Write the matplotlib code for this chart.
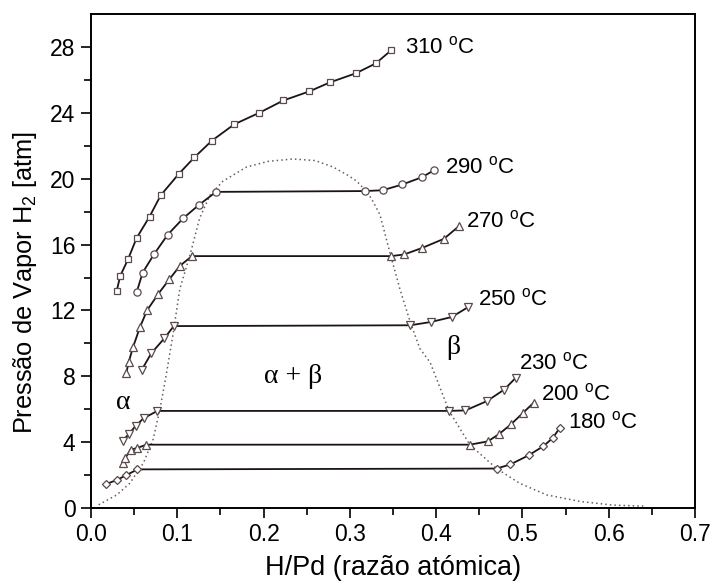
import numpy as np
import matplotlib
matplotlib.use('Agg')
import matplotlib.pyplot as plt

# ---------------------------------------------------------------------------
# Data
# ---------------------------------------------------------------------------

x310 = [0.030, 0.034, 0.043, 0.053, 0.068, 0.081, 0.102, 0.120, 0.140,
        0.166, 0.195, 0.223, 0.253, 0.277, 0.307, 0.330, 0.348]
y310 = [13.2, 14.1, 15.1, 16.4, 17.7, 19.0, 20.3, 21.3, 22.3,
        23.3, 24.0, 24.75, 25.3, 25.85, 26.4, 27.0, 27.8]

x290 = [0.053, 0.060, 0.073, 0.089, 0.107, 0.125, 0.145, 0.318, 0.338,
        0.361, 0.384, 0.397]
y290 = [13.1, 14.3, 15.4, 16.6, 17.6, 18.4, 19.2, 19.25, 19.3,
        19.65, 20.1, 20.5]

x270 = [0.041, 0.044, 0.049, 0.057, 0.065, 0.078, 0.091, 0.103, 0.117,
        0.348, 0.363, 0.384, 0.409, 0.426]
y270 = [8.2, 8.9, 9.8, 11.0, 12.0, 13.0, 13.9, 14.7, 15.3,
        15.3, 15.4, 15.8, 16.35, 17.1]

x250 = [0.059, 0.070, 0.085, 0.096, 0.370, 0.394, 0.418, 0.437]
y250 = [8.4, 9.4, 10.3, 11.05, 11.1, 11.3, 11.6, 12.2]

x230 = [0.037, 0.044, 0.052, 0.061, 0.077, 0.415, 0.434, 0.459, 0.479, 0.492]
y230 = [4.1, 4.5, 5.0, 5.45, 5.9, 5.9, 5.93, 6.5, 7.2, 7.9]

x200 = [0.037, 0.040, 0.046, 0.054, 0.064, 0.439, 0.460, 0.473, 0.487,
        0.501, 0.513]
y200 = [2.75, 3.05, 3.55, 3.65, 3.85, 3.85, 4.05, 4.5, 5.1, 5.8, 6.4]

x180 = [0.017, 0.030, 0.041, 0.054, 0.470, 0.486, 0.507, 0.524, 0.535, 0.543]
y180 = [1.45, 1.7, 2.0, 2.35, 2.4, 2.65, 3.2, 3.75, 4.25, 4.85]

# two-phase boundary (dotted dome)
x_dome = [0.009, 0.030, 0.045, 0.061, 0.072, 0.080, 0.087, 0.095, 0.103,
          0.115, 0.126, 0.138, 0.153, 0.180, 0.205, 0.234, 0.260, 0.281,
          0.298, 0.308, 0.318, 0.325, 0.335, 0.346, 0.358, 0.370, 0.381,
          0.393, 0.415, 0.439, 0.470, 0.497, 0.528, 0.567, 0.605, 0.640]
y_dome = [0.2, 0.8, 1.5, 2.75, 4.15, 6.0, 8.0, 10.5, 13.3,
          15.4, 17.6, 19.0, 19.85, 20.7, 21.05, 21.2, 21.1, 20.7,
          20.2, 19.85, 19.3, 18.8, 17.8, 15.6, 13.3, 11.3, 9.7,
          8.85, 5.9, 3.85, 2.4, 1.5, 0.8, 0.4, 0.18, 0.12]

series = [
  (x310, y310, 's', 4.8, '310 $^{\\mathregular{o}}$C', (0.364, 28.0)),
  (x290, y290, 'o', 5.2, '290 $^{\\mathregular{o}}$C', (0.410, 20.7)),
  (x270, y270, '^', 5.4, '270 $^{\\mathregular{o}}$C', (0.435, 17.4)),
  (x250, y250, 'v', 5.4, '250 $^{\\mathregular{o}}$C', (0.449, 12.7)),
  (x230, y230, 'v', 5.4, '230 $^{\\mathregular{o}}$C', (0.496, 8.8)),
  (x200, y200, '^', 5.4, '200 $^{\\mathregular{o}}$C', (0.522, 6.9)),
  (x180, y180, 'D', 4.4, '180 $^{\\mathregular{o}}$C', (0.553, 5.2)),
]

# ---------------------------------------------------------------------------
# Plot
# ---------------------------------------------------------------------------

plt.rcParams['font.family'] = ['Liberation Sans', 'DejaVu Sans']
plt.rcParams['mathtext.fontset'] = 'custom'
plt.rcParams['mathtext.rm'] = 'Liberation Sans'
plt.rcParams['mathtext.it'] = 'Liberation Sans'

fig = plt.figure(figsize=(7.10, 5.84), dpi=100)
ax = fig.add_axes([0.128, 0.130, 0.851, 0.846])

ax.plot(x_dome, y_dome, linestyle=(0, (1, 2.0)), color='#6a5c5c',
        linewidth=1.1, zorder=1)

for xs, ys, mk, ms, lab, pos in series:
  ax.plot(xs, ys, '-', color='#1c1414', linewidth=1.3, marker=mk,
          markersize=ms, markerfacecolor='white', markeredgecolor='#5a4a4a',
          markeredgewidth=0.9, zorder=2)
  ax.text(pos[0], pos[1], lab, fontsize=16, ha='left', va='center')

ax.text(0.037, 6.4, '\u03b1', fontsize=20, family='Liberation Serif',
        ha='center', va='center')
ax.text(0.234, 8.0, '\u03b1 + \u03b2', fontsize=20, family='Liberation Serif',
        ha='center', va='center')
ax.text(0.420, 9.75, '\u03b2', fontsize=20, family='Liberation Serif',
        ha='center', va='center')

ax.set_xlim(0, 0.7)
ax.set_ylim(0, 30)
ax.set_xticks(np.arange(0, 0.71, 0.1))
ax.set_xticks(np.arange(0.05, 0.7, 0.1), minor=True)
ax.set_yticks(np.arange(0, 29, 4))
ax.set_yticks(np.arange(2, 30, 4), minor=True)
ax.xaxis.set_major_formatter(matplotlib.ticker.FormatStrFormatter('%.1f'))

ax.tick_params(which='major', direction='out', length=7, width=1.2,
               labelsize=16.5, pad=4)
ax.tick_params(which='minor', direction='out', length=5, width=1.2)
for sp in ax.spines.values():
  sp.set_linewidth(1.4)

ax.set_xlabel('H/Pd (raz\u00e3o at\u00f3mica)', fontsize=19.5, labelpad=6)
ax.set_ylabel('Press\u00e3o de Vapor H$_2$ [atm]', fontsize=18.3)
ax.yaxis.set_label_coords(-0.086, 0.457)

fig.savefig('out.png', dpi=100)
plt.close(fig)
